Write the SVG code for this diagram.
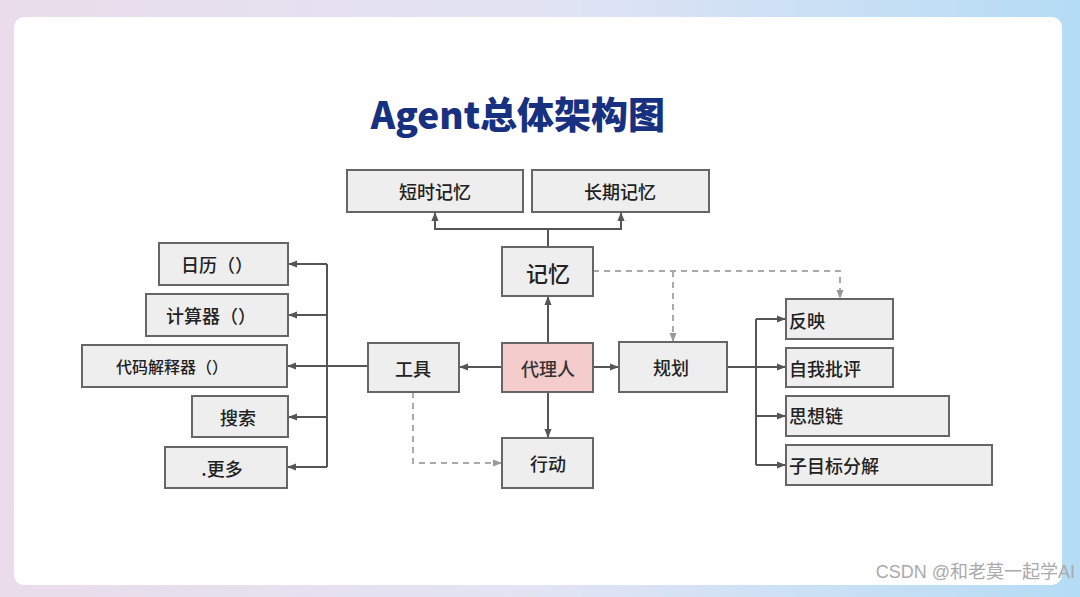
<svg xmlns="http://www.w3.org/2000/svg" width="1080" height="597" viewBox="0 0 1080 597">
<defs>
<linearGradient id="bg" x1="0" y1="0" x2="1" y2="0">
<stop offset="0" stop-color="#eadcea"/><stop offset="0.5" stop-color="#e2e4f4"/><stop offset="1" stop-color="#b5dcf5"/>
</linearGradient>
<marker id="a" viewBox="0 0 10 10" refX="9" refY="5" markerWidth="9" markerHeight="9" orient="auto" markerUnits="userSpaceOnUse"><path d="M0,1L10,5L0,9z" fill="#555"/></marker>
<marker id="d" viewBox="0 0 10 10" refX="9" refY="5" markerWidth="9" markerHeight="9" orient="auto" markerUnits="userSpaceOnUse"><path d="M0,1L10,5L0,9z" fill="#999"/></marker>
</defs>
<style>
.b rect{fill:#eeeeee;stroke:#666;stroke-width:2}
.b text{font-family:"Noto Sans CJK SC","Liberation Sans",sans-serif;font-size:18px;font-weight:500;fill:#222;dominant-baseline:central}
.c{text-anchor:middle}
.l{stroke:#555;stroke-width:2;fill:none}
.dl{stroke:#aaa;stroke-width:2;fill:none;stroke-dasharray:6 5}
</style>
<rect width="1080" height="597" fill="url(#bg)"/>
<rect x="14" y="17" width="1048" height="568" rx="10" fill="#fff"/>
<text x="518" y="113" text-anchor="middle" dominant-baseline="central" font-family="Noto Sans CJK SC,Liberation Sans,sans-serif" font-weight="900" font-size="37" fill="#17307f">Agent总体架构图</text>
<g id="connectors">
<path class="l" d="M548,247V229M548,229H435V213" marker-end="url(#a)"/>
<path class="l" d="M548,229H621V213" marker-end="url(#a)"/>
<path class="l" d="M548,343V297" marker-end="url(#a)"/>
<path class="l" d="M548,392V437" marker-end="url(#a)"/>
<path class="l" d="M502,367H460" marker-end="url(#a)"/>
<path class="l" d="M593,367H618" marker-end="url(#a)"/>
<path class="l" d="M368,366H327"/>
<path class="l" d="M327,264V467"/>
<path class="l" d="M327,264H289" marker-end="url(#a)"/>
<path class="l" d="M327,315H289" marker-end="url(#a)"/>
<path class="l" d="M327,366H288" marker-end="url(#a)"/>
<path class="l" d="M327,417H289" marker-end="url(#a)"/>
<path class="l" d="M327,467H288" marker-end="url(#a)"/>
<path class="l" d="M727,367H756"/>
<path class="l" d="M756,319V465"/>
<path class="l" d="M756,319H785" marker-end="url(#a)"/>
<path class="l" d="M756,367H785" marker-end="url(#a)"/>
<path class="l" d="M756,416H785" marker-end="url(#a)"/>
<path class="l" d="M756,465H785" marker-end="url(#a)"/>
<path class="dl" d="M593,271H840V298" marker-end="url(#d)"/>
<path class="dl" d="M673,271V341" marker-end="url(#d)"/>
<path class="dl" d="M413,392V463H501" marker-end="url(#d)"/>
</g>
<g id="n-short" class="b"><rect x="347" y="170" width="176" height="42"/><text class="c" x="435" y="191">短时记忆</text></g>
<g id="n-long" class="b"><rect x="532" y="170" width="177" height="42"/><text class="c" x="620" y="191">长期记忆</text></g>
<g id="n-mem" class="b"><rect x="502" y="247" width="91" height="49"/><text class="c" x="548" y="272" style="font-size:22px">记忆</text></g>
<g id="n-cal" class="b"><rect x="159" y="243" width="129" height="42"/><text class="c" x="217" y="264">日历（）</text></g>
<g id="n-calc" class="b"><rect x="146" y="294" width="142" height="42"/><text class="c" x="211" y="315">计算器（）</text></g>
<g id="n-code" class="b"><rect x="82" y="345" width="205" height="42"/><text class="c" x="172" y="366" style="font-size:16px">代码解释器（）</text></g>
<g id="n-search" class="b"><rect x="192" y="396" width="96" height="41"/><text class="c" x="238" y="417">搜索</text></g>
<g id="n-more" class="b"><rect x="165" y="447" width="122" height="41"/><text class="c" x="222" y="468">.更多</text></g>
<g id="n-tool" class="b"><rect x="368" y="343" width="91" height="49"/><text class="c" x="413" y="368">工具</text></g>
<g id="n-agent" class="b"><rect x="502" y="343" width="91" height="49" style="fill:#f4cccc"/><text class="c" x="548" y="368" style="fill:#333">代理人</text></g>
<g id="n-act" class="b"><rect x="502" y="438" width="91" height="50"/><text class="c" x="548" y="463">行动</text></g>
<g id="n-plan" class="b"><rect x="619" y="342" width="108" height="50"/><text class="c" x="671" y="367">规划</text></g>
<g id="n-ref" class="b"><rect x="786" y="299" width="107" height="40"/><text x="789" y="320">反映</text></g>
<g id="n-crit" class="b"><rect x="786" y="348" width="107" height="39"/><text x="789" y="368">自我批评</text></g>
<g id="n-cot" class="b"><rect x="786" y="396" width="163" height="40"/><text x="789" y="415">思想链</text></g>
<g id="n-sub" class="b"><rect x="786" y="445" width="206" height="40"/><text x="789" y="465">子目标分解</text></g>
<text x="1075" y="578" text-anchor="end" font-family="Liberation Sans,Noto Sans CJK SC,sans-serif" font-size="18" fill="#aaa">CSDN @和老莫一起学AI</text>
</svg>
